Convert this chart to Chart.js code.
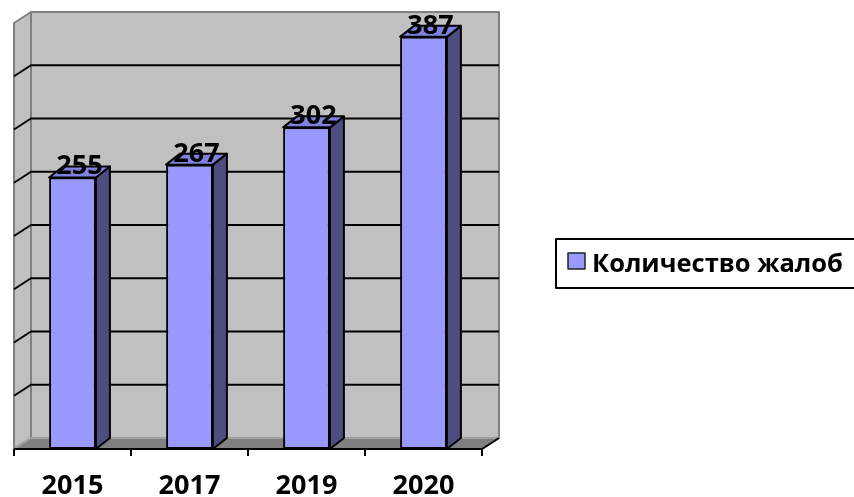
<!DOCTYPE html>
<html>
<head>
<meta charset="utf-8">
<script src="https://cdn.jsdelivr.net/npm/chart.js@4"></script>
<style>
body{margin:0;background:#fff}
</style>
</head>
<body>
<canvas id="complaints" width="854" height="497"></canvas>
<script>
const years = ['2015', '2017', '2019', '2020'];
const complaints = [255, 267, 302, 387];
const seriesName = 'Количество жалоб';
const gridValues = [50, 100, 150, 200, 250, 300, 350];

// excel-like 3d box: walls, floor, bar sides and tops
const box3d = {
    id:'box3d',
    beforeDatasetsDraw(chart){
        const {ctx, chartArea:a, scales:{x, y}} = chart;
        const dx = 17, dy = 11;
        ctx.save();
        ctx.lineJoin = 'round';
        // back wall
        ctx.fillStyle = '#c0c0c0';
        ctx.strokeStyle = '#808080';
        ctx.lineWidth = 2;
        ctx.fillRect(a.left + dx, a.top - dy, a.right - a.left, a.bottom - a.top);
        ctx.strokeRect(a.left + dx, a.top - dy, a.right - a.left, a.bottom - a.top);
        // left wall
        ctx.beginPath();
        ctx.moveTo(a.left, a.top);
        ctx.lineTo(a.left + dx, a.top - dy);
        ctx.lineTo(a.left + dx, a.bottom - dy);
        ctx.lineTo(a.left, a.bottom);
        ctx.closePath();
        ctx.fill();
        ctx.stroke();
        // floor
        ctx.fillStyle = '#808080';
        ctx.strokeStyle = '#a0a0a0';
        ctx.beginPath();
        ctx.moveTo(a.left, a.bottom);
        ctx.lineTo(a.left + dx, a.bottom - dy);
        ctx.lineTo(a.right + dx, a.bottom - dy);
        ctx.lineTo(a.right, a.bottom);
        ctx.closePath();
        ctx.fill();
        ctx.stroke();
        // gridlines
        ctx.strokeStyle = '#000';
        ctx.lineWidth = 2;
        gridValues.forEach(v => {
            const yy = y.getPixelForValue(v);
            ctx.beginPath();
            ctx.moveTo(a.left, yy);
            ctx.lineTo(a.left + dx, yy - dy);
            ctx.lineTo(a.right + dx, yy - dy);
            ctx.stroke();
        });
        // category axis
        const half = (x.getPixelForValue(1) - x.getPixelForValue(0)) / 2;
        ctx.beginPath();
        ctx.moveTo(a.left, a.bottom);
        ctx.lineTo(a.right, a.bottom);
        ctx.lineTo(a.right + dx, a.bottom - dy);
        ctx.stroke();
        for (let i = 0; i <= years.length; i++) {
            const xx = Math.round(x.getPixelForValue(0) - half + i * 2 * half);
            ctx.beginPath();
            ctx.moveTo(xx, a.bottom);
            ctx.lineTo(xx, a.bottom + 7);
            ctx.stroke();
        }
        ctx.restore();
    },
    afterDatasetsDraw(chart){
        const {ctx, chartArea:a, scales:{x}} = chart;
        const bd = 14, bdy = 11;
        ctx.save();
        ctx.lineWidth = 2;
        ctx.strokeStyle = '#000';
        ctx.lineJoin = 'round';
        chart.getDatasetMeta(0).data.forEach((bar, i) => {
            const l = bar.x - bar.width / 2, r = bar.x + bar.width / 2;
            // side
            ctx.fillStyle = '#4d4d80';
            ctx.beginPath();
            ctx.moveTo(r, bar.y);
            ctx.lineTo(r + bd, bar.y - bdy);
            ctx.lineTo(r + bd, bar.base - bdy);
            ctx.lineTo(r, bar.base);
            ctx.closePath();
            ctx.fill();
            ctx.stroke();
            // top
            ctx.fillStyle = '#8080e0';
            ctx.beginPath();
            ctx.moveTo(l, bar.y);
            ctx.lineTo(l + bd, bar.y - bdy);
            ctx.lineTo(r + bd, bar.y - bdy);
            ctx.lineTo(r, bar.y);
            ctx.closePath();
            ctx.fill();
            ctx.stroke();
            // value label
            ctx.fillStyle = '#000';
            ctx.font = 'bold 27px "Open Sans"';
            ctx.textAlign = 'center';
            ctx.textBaseline = 'alphabetic';
            ctx.fillText(String(complaints[i]), bar.x + bd / 2, bar.y - bdy + 8);
        });
        // year labels
        ctx.fillStyle = '#000';
        ctx.font = 'bold 27px "Open Sans"';
        ctx.textAlign = 'center';
        years.forEach((yr, i) => {
            ctx.fillText(yr, x.getPixelForValue(i), 494);
        });
        // legend
        ctx.strokeStyle = '#000';
        ctx.lineWidth = 2;
        ctx.strokeRect(556, 239, 310, 49);
        ctx.fillStyle = '#9999ff';
        ctx.fillRect(568, 253, 17, 16);
        ctx.lineWidth = 1.5;
        ctx.strokeStyle = '#222';
        ctx.strokeRect(568, 253, 17, 16);
        ctx.fillStyle = '#000';
        ctx.textAlign = 'left';
        ctx.font = 'bold 25.5px "Open Sans"';
        ctx.fillText(seriesName, 592, 272);
        ctx.restore();
    }
};

const complaintsChart = new Chart(document.getElementById('complaints').getContext('2d'), {
    type:'bar',
    data:{
        labels:years,
        datasets:[{
            label:seriesName,
            data:complaints,
            backgroundColor:'#9999ff',
            borderColor:'#000',
            borderWidth:2,
            borderSkipped:false,
            barPercentage:0.4,
            categoryPercentage:1
        }]
    },
    options:{
        responsive:false,
        animation:false,
        layout:{
            padding:{left:14, right:372, top:23, bottom:48}
        },
        scales:{
            x:{
                display:false
            },
            y:{
                display:false,
                min:0,
                max:400
            }
        },
        plugins:{
            legend:{
                display:false
            },
            tooltip:{
                enabled:false
            }
        }
    },
    plugins:[box3d]
});
</script>
</body>
</html>
